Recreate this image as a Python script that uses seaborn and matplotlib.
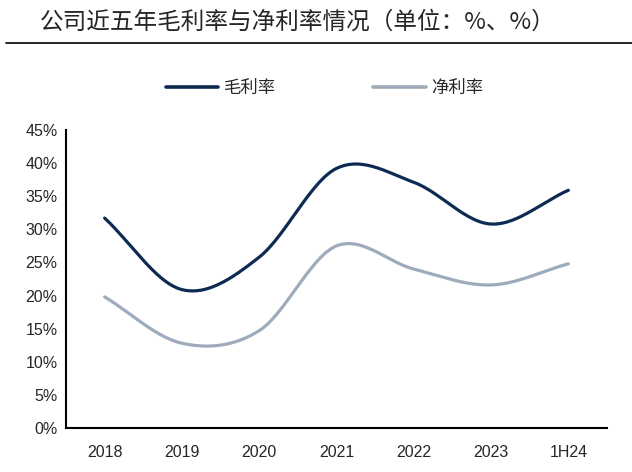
import numpy as np
import pandas as pd
import matplotlib
matplotlib.use("Agg")
import matplotlib.pyplot as plt
import seaborn as sns
from matplotlib.ticker import FuncFormatter
from matplotlib.lines import Line2D

# data
periods = ["2018", "2019", "2020", "2021", "2022", "2023", "1H24"]
gross_margin = [31.7, 20.9, 25.8, 39.2, 37.1, 30.8, 35.9]
net_margin = [19.8, 12.8, 14.7, 27.5, 24.0, 21.6, 24.8]

sns.set_style("white")
plt.rcParams['font.family'] = ['Noto Sans CJK SC', 'DejaVu Sans']


def smooth(xs, ys, n=30):
    # catmull-rom style smoothing like excel "smoothed line"
    xs = np.asarray(xs, float)
    ys = np.asarray(ys, float)
    px = np.concatenate([[2 * xs[0] - xs[1]], xs, [2 * xs[-1] - xs[-2]]])
    py = np.concatenate([[2 * ys[0] - ys[1]], ys, [2 * ys[-1] - ys[-2]]])
    out_x, out_y = [], []
    for i in range(1, len(px) - 2):
        t = np.linspace(0, 1, n, endpoint=False)
        for p, out in ((px, out_x), (py, out_y)):
            p0, p1, p2, p3 = p[i - 1], p[i], p[i + 1], p[i + 2]
            b1 = p1 + (p2 - p0) / 6
            b2 = p2 - (p3 - p1) / 6
            out.extend((1 - t) ** 3 * p1 + 3 * (1 - t) ** 2 * t * b1
                       + 3 * (1 - t) * t ** 2 * b2 + t ** 3 * p2)
    out_x.append(xs[-1])
    out_y.append(ys[-1])
    return np.array(out_x), np.array(out_y)


idx = np.arange(len(periods))
rows = []
for name, vals in (("毛利率", gross_margin), ("净利率", net_margin)):
    sx, sy = smooth(idx, vals)
    rows.append(pd.DataFrame({"x": sx, "y": sy, "series": name}))
df = pd.concat(rows, ignore_index=True)

colors = {"毛利率": "#0d2b52", "净利率": "#9dabbb"}

fig = plt.figure(figsize=(6.32, 4.72), dpi=100)
ax = fig.add_axes([66 / 632, 1 - 428 / 472, (607 - 66) / 632, (428 - 130) / 472])

sns.lineplot(data=df, x="x", y="y", hue="series", sort=False,
             palette=colors, linewidth=2.3, ax=ax, legend=False)

ax.set_xlim(-0.5, len(periods) - 0.5)
ax.set_ylim(0, 45)
ax.set_yticks(np.arange(0, 46, 5))
ax.yaxis.set_major_formatter(FuncFormatter(lambda v, p: f"{v:.0f}%"))
ax.set_xticks(idx)
ax.set_xticklabels(periods)
ax.set_xticks(np.arange(-0.5, len(periods)), minor=True)
ax.tick_params(axis="x", which="major", length=0, pad=12, labelsize=11.5)
ax.tick_params(axis="x", which="minor", direction="in", length=6, width=1.2, color="black")
ax.tick_params(axis="y", direction="in", length=6, width=1.2, color="black", labelsize=11.5, pad=6)
for lab in ax.get_xticklabels() + ax.get_yticklabels():
    lab.set_family("Liberation Sans")
ax.set_xlabel("")
ax.set_ylabel("")
for s in ("top", "right"):
    ax.spines[s].set_visible(False)
for s in ("left", "bottom"):
    ax.spines[s].set_color("black")
    ax.spines[s].set_linewidth(1.5)

# legend
handles = [Line2D([], [], color=colors["毛利率"], lw=2.6), Line2D([], [], color=colors["净利率"], lw=2.6)]
fig.legend(handles, ["毛利率", "净利率"], loc="center", bbox_to_anchor=(0.514, 1 - 88 / 472),
           ncol=2, frameon=False, fontsize=12.5, handlelength=3.0, columnspacing=5.6,
           handletextpad=0.35)

# title with underline
fig.text(40 / 632, 1 - 22 / 472, "公司近五年毛利率与净利率情况（单位：%、%）",
         fontsize=17, va="center", ha="left")
fig.add_artist(Line2D([6 / 632, 1], [1 - 43 / 472, 1 - 43 / 472], color="black", lw=1.2))

fig.savefig("out.png", dpi=100)
